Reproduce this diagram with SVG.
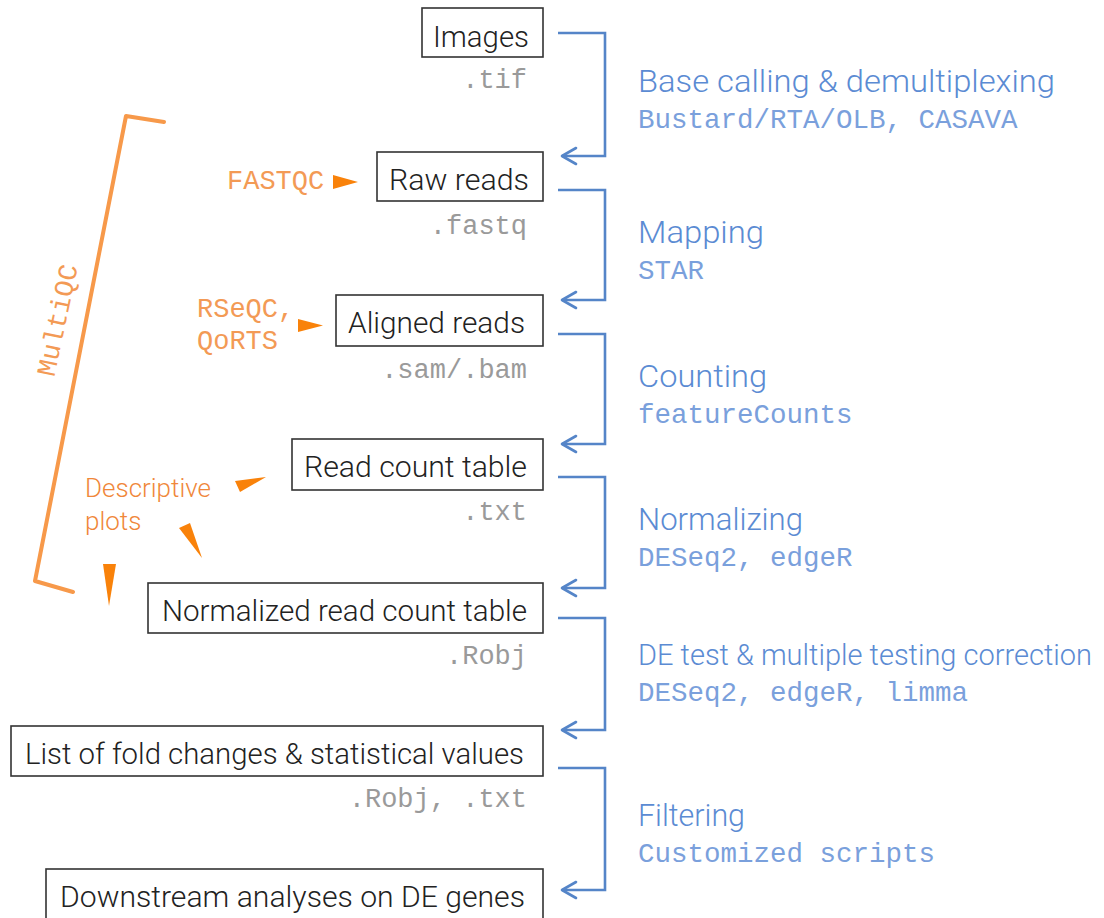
<svg xmlns="http://www.w3.org/2000/svg" width="1104" height="918" viewBox="0 0 1104 918">
<style>
.box{fill:#fff;stroke:#333;stroke-width:1.6}
.bt{font-family:Roboto,"Liberation Sans",sans-serif;font-weight:300;font-size:29px;fill:#222}
.ext{font-family:"Liberation Mono",monospace;font-size:27px;fill:#9a9a9a;text-anchor:end}
.step{font-family:Roboto,"Liberation Sans",sans-serif;font-weight:300;font-size:31px;fill:#5b8bd3}
.tool{font-family:"Liberation Mono",monospace;font-size:27.5px;fill:#7aa0dc}
.conn{fill:none;stroke:#5585c8;stroke-width:2.6}
.otxt{font-family:"Liberation Mono",monospace;font-size:27px;fill:#f39a55}
.osans{font-family:Roboto,"Liberation Sans",sans-serif;font-weight:300;font-size:26px;fill:#f0873a}
.tri{fill:#f9820a}
</style>
<defs>
<marker id="chev" markerWidth="20" markerHeight="20" refX="17" refY="10" orient="auto" markerUnits="userSpaceOnUse">
<path d="M3,2 L17,10 L3,18" fill="none" stroke="#5585c8" stroke-width="2.6" stroke-linecap="round" stroke-linejoin="round"/>
</marker>
</defs>

<g id="connectors">
<path class="conn" d="M558,33 H605 V156 H562" marker-end="url(#chev)"/>
<path class="conn" d="M558,190 H605 V300 H562" marker-end="url(#chev)"/>
<path class="conn" d="M558,334 H605 V444 H562" marker-end="url(#chev)"/>
<path class="conn" d="M558,477 H605 V588 H562" marker-end="url(#chev)"/>
<path class="conn" d="M558,618 H605 V730 H562" marker-end="url(#chev)"/>
<path class="conn" d="M558,768 H605 V890 H562" marker-end="url(#chev)"/>
</g>

<g id="images">
<rect class="box" x="422" y="8" width="121" height="49"/>
<text class="bt" x="433" y="47" textLength="96" lengthAdjust="spacingAndGlyphs">Images</text>
<text class="ext" x="527" y="88">.tif</text>
</g>
<g id="raw-reads">
<rect class="box" x="377" y="152" width="166" height="49"/>
<text class="bt" x="389" y="190" textLength="140" lengthAdjust="spacingAndGlyphs">Raw reads</text>
<text class="ext" x="527" y="234">.fastq</text>
</g>
<g id="aligned-reads">
<rect class="box" x="336" y="295" width="207" height="51"/>
<text class="bt" x="348" y="333" textLength="177" lengthAdjust="spacingAndGlyphs">Aligned reads</text>
<text class="ext" x="527" y="378">.sam/.bam</text>
</g>
<g id="read-count-table">
<rect class="box" x="292" y="439" width="251" height="51"/>
<text class="bt" x="304" y="477" textLength="223" lengthAdjust="spacingAndGlyphs">Read count table</text>
<text class="ext" x="527" y="520">.txt</text>
</g>
<g id="normalized-table">
<rect class="box" x="148" y="583" width="395" height="50"/>
<text class="bt" x="162" y="621" textLength="365" lengthAdjust="spacingAndGlyphs">Normalized read count table</text>
<text class="ext" x="527" y="664">.Robj</text>
</g>
<g id="fold-changes">
<rect class="box" x="11" y="726" width="532" height="50"/>
<text class="bt" x="25" y="764" textLength="499" lengthAdjust="spacingAndGlyphs">List of fold changes &amp; statistical values</text>
<text class="ext" x="527" y="807">.Robj, .txt</text>
</g>
<g id="downstream">
<rect class="box" x="46" y="869" width="497" height="60"/>
<text class="bt" x="60" y="907" textLength="465" lengthAdjust="spacingAndGlyphs">Downstream analyses on DE genes</text>
</g>

<g id="step-labels">
<text class="step" x="638" y="92" textLength="417" lengthAdjust="spacingAndGlyphs">Base calling &amp; demultiplexing</text>
<text class="tool" x="638" y="128">Bustard/RTA/OLB, CASAVA</text>
<text class="step" x="638" y="243" textLength="126" lengthAdjust="spacingAndGlyphs">Mapping</text>
<text class="tool" x="638" y="279">STAR</text>
<text class="step" x="638" y="387" textLength="129" lengthAdjust="spacingAndGlyphs">Counting</text>
<text class="tool" x="638" y="423">featureCounts</text>
<text class="step" x="638" y="530" textLength="165" lengthAdjust="spacingAndGlyphs">Normalizing</text>
<text class="tool" x="638" y="566">DESeq2, edgeR</text>
<text class="step" x="638" y="665" style="font-size:30px" textLength="454" lengthAdjust="spacingAndGlyphs">DE test &amp; multiple testing correction</text>
<text class="tool" x="638" y="701">DESeq2, edgeR, limma</text>
<text class="step" x="638" y="826" textLength="107" lengthAdjust="spacingAndGlyphs">Filtering</text>
<text class="tool" x="638" y="862">Customized scripts</text>
</g>

<g id="qc">
<polyline points="164,122 126,116 35,581 73,592" fill="none" stroke="#f7994a" stroke-width="4" stroke-linejoin="round" stroke-linecap="round"/>
<text class="otxt" transform="translate(66,322) rotate(-78)" text-anchor="middle">MultiQC</text>
<text class="otxt" x="227" y="189">FASTQC</text>
<polygon class="tri" points="333,175 358,182 333,189"/>
<text class="otxt" x="197" y="317">RSeQC,</text>
<text class="otxt" x="197" y="349">QoRTS</text>
<polygon class="tri" points="298,319 323,325.5 298,332"/>
<text class="osans" x="85" y="497" textLength="126" lengthAdjust="spacingAndGlyphs">Descriptive</text>
<text class="osans" x="85" y="530">plots</text>
<polygon class="tri" points="235,481 266,477 240,492"/>
<polygon class="tri" points="179,528 190,523 202,558"/>
<polygon class="tri" points="103,564 116,564 109,606"/>
</g>
</svg>
